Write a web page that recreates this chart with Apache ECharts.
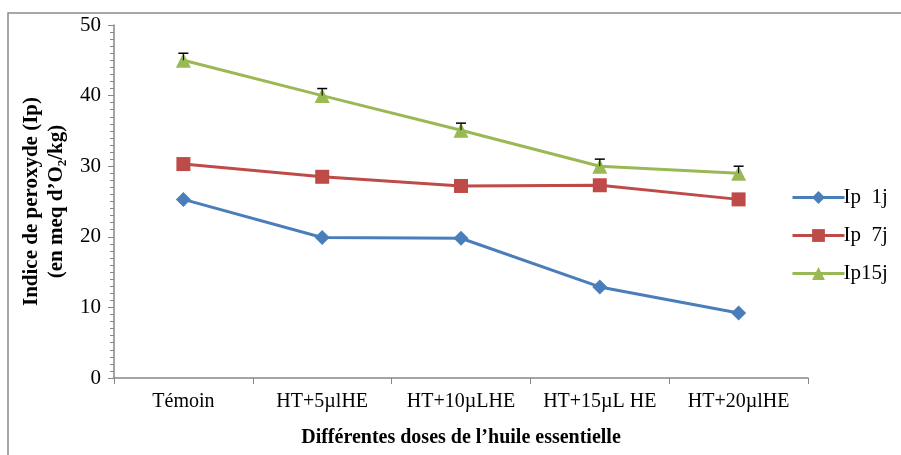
<!DOCTYPE html>
<html><head><meta charset="utf-8">
<script src="https://cdn.jsdelivr.net/npm/echarts@6/dist/echarts.min.js"></script>
<style>html,body{margin:0;padding:0;background:#fff}#c{width:901px;height:455px}</style>
</head><body><div id="c"></div>
<script>
var categories = ['Témoin', 'HT+5µlHE', 'HT+10µLHE', 'HT+15µL HE', 'HT+20µlHE'];
var ip1 = [25.3, 19.9, 19.8, 12.9, 9.2];
var ip7 = [30.3, 28.5, 27.2, 27.3, 25.3];
var ip15 = [45.0, 40.0, 35.1, 30.0, 29.0];
var ip15err = [1.0, 1.0, 1.0, 1.0, 1.0];
var seriesNames = ['Ip  1j', 'Ip  7j', 'Ip15j'];
var yTicks = [0, 10, 20, 30, 40, 50];

var font = '"Liberation Serif", "Times New Roman", serif';
var chart = echarts.init(document.getElementById('c'));
var errData = ip15.map(function (v, i) { return [i, v, v + ip15err[i]]; });
chart.setOption({
  animation: false,
  textStyle: { fontFamily: font },
  graphic: [{
    type: 'rect', shape: { x: 8, y: 13, width: 1000, height: 1000 },
    style: { fill: 'none', stroke: '#8a8a8a', lineWidth: 1.5 }, silent: true
  }],
  grid: { left: 114, right: 93, top: 25, bottom: 77, containLabel: false },
  legend: {
    orient: 'vertical', left: 786, top: 182, itemGap: 17,
    itemWidth: 52, itemHeight: 16,
    lineStyle: { width: 3 },
    textStyle: { fontFamily: font, fontSize: 21, color: '#000', padding: [0, 0, 0, -6] },
    data: seriesNames
  },
  xAxis: {
    type: 'category', data: categories, boundaryGap: true,
    axisLine: { lineStyle: { color: '#868686', width: 1.5 } },
    axisTick: { show: true, length: 6, lineStyle: { color: '#868686' } },
    axisLabel: { color: '#000', fontSize: 20, fontFamily: font, margin: 14, interval: 0, hideOverlap: false },
    name: 'Différentes doses de l’huile essentielle',
    nameLocation: 'middle', nameGap: 50,
    nameTextStyle: { fontFamily: font, fontSize: 20, fontWeight: 'bold', color: '#000' }
  },
  yAxis: {
    type: 'value', min: yTicks[0], max: yTicks[yTicks.length - 1], interval: 10,
    axisLine: { show: true, lineStyle: { color: '#868686', width: 1.5 } },
    axisTick: { show: true, length: 6, lineStyle: { color: '#868686' } },
    minorTick: { show: true, splitNumber: 10, length: 4, lineStyle: { color: '#868686' } },
    splitLine: { show: false },
    axisLabel: { color: '#000', fontSize: 21, fontFamily: font, margin: 13 },
    name: '{a|Indice de peroxyde (Ip)}\n{a|(en meq d’O}{s|2}{a|/kg)}',
    nameLocation: 'middle', nameGap: 43, nameRotate: 90,
    nameTextStyle: {
      fontFamily: font, fontWeight: 'bold', color: '#000', lineHeight: 25,
      rich: {
        a: { fontFamily: font, fontSize: 21, fontWeight: 'bold', color: '#000', lineHeight: 25 },
        s: { fontFamily: font, fontSize: 13, fontWeight: 'bold', color: '#000', verticalAlign: 'bottom', padding: [9, 0, 0, 0], lineHeight: 25 }
      }
    }
  },
  series: [
    { name: seriesNames[0], type: 'line', data: ip1, symbol: 'diamond', symbolSize: 15,
      itemStyle: { color: '#4a7ebb' }, lineStyle: { width: 3, color: '#4a7ebb' } },
    { name: seriesNames[1], type: 'line', data: ip7, symbol: 'rect', symbolSize: 14,
      itemStyle: { color: '#be4b48' }, lineStyle: { width: 3, color: '#be4b48' } },
    { name: seriesNames[2], type: 'line', data: ip15, symbol: 'triangle', symbolSize: 15,
      itemStyle: { color: '#98b954' }, lineStyle: { width: 3, color: '#98b954' }, z: 3 },
    { name: 'err', type: 'custom', data: errData, z: 4,
      renderItem: function (params, api) {
        var x = api.value(0);
        var p0 = api.coord([x, api.value(1)]);
        var p1 = api.coord([x, api.value(2)]);
        return { type: 'group', children: [
          { type: 'line', shape: { x1: p0[0], y1: p0[1], x2: p1[0], y2: p1[1] }, style: { stroke: '#000', lineWidth: 1 } },
          { type: 'line', shape: { x1: p1[0] - 5, y1: p1[1], x2: p1[0] + 5, y2: p1[1] }, style: { stroke: '#000', lineWidth: 1.5 } }
        ] };
      }
    }
  ]
});
</script></body></html>
